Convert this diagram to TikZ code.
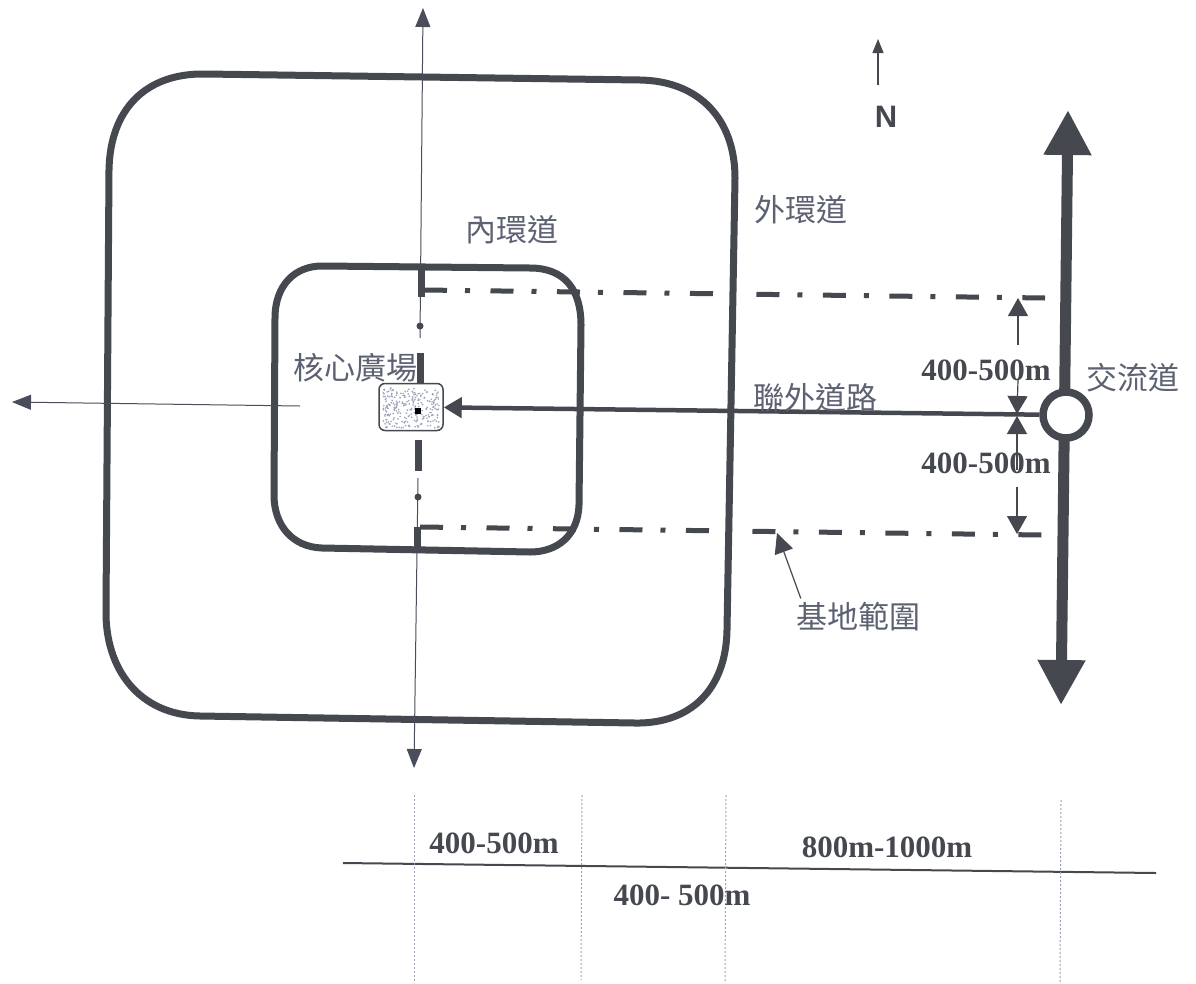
\documentclass[tikz,border=0pt]{standalone}
\usepackage{fontspec}
\setmainfont{Liberation Serif}
\newfontfamily\cjk{Noto Sans CJK TC}
\newfontfamily\sansb{Liberation Sans}
\usetikzlibrary{arrows.meta}
\definecolor{ink}{HTML}{45484F}
\definecolor{txt}{HTML}{5C6272}
\definecolor{thin}{HTML}{4A4E5A}
\definecolor{dotl}{HTML}{9AA3B8}
\tikzset{
  ring/.style={draw=ink,line width=7pt,line join=round},
  cjklabel/.style={text=txt,inner sep=0pt,font=\cjk\fontsize{31}{31}\selectfont},
  dimlabel/.style={text=ink,inner sep=0pt,font=\bfseries\fontsize{31}{31}\selectfont},
  axisline/.style={draw=thin,line width=1pt,-{Triangle[length=19pt,width=15pt]}},
  boundary/.style={draw=ink,line width=5pt,dash pattern=on 23pt off 18pt on 5pt off 20.5pt},
  thickbar/.style={draw=ink,line width=7pt},
  dimarrow/.style={draw=ink,line width=1.2pt,-{Triangle[length=18pt,width=20pt]}},
  gridline/.style={draw=dotl,line width=1pt,dash pattern=on 2pt off 2pt},
  coord/.style={inner sep=0pt,minimum size=0pt}
}
\begin{document}
\begin{tikzpicture}[x=1pt,y=-1pt]
\useasboundingbox[fill=white] (0,0) rectangle (1196,983);
% coordinates
\coordinate (axT) at (423,8);
\coordinate (axTe) at (420,338);
\coordinate (axB) at (414,768);
\coordinate (axBs) at (418,478);
\coordinate (axLs) at (300,406);
\coordinate (axLe) at (12,402);
\coordinate (bt1) at (424,290);
\coordinate (bt2) at (1045,298);
\coordinate (bb1) at (420,527);
\coordinate (bb2) at (1042,535);
\coordinate (hT) at (1068,110);
\coordinate (hB) at (1061,705);
\coordinate (sclL) at (343,863);
\coordinate (sclR) at (1156,873);
\coordinate (nS) at (878,85);
\coordinate (nE) at (878,39);
% rings
\draw[ring] (205,74) -- (640,80) .. controls (700,81) and (735,120) .. (735,178)
  -- (727,630) .. controls (726,690) and (690,724) .. (635,723)
  -- (200,716) .. controls (140,715) and (105,670) .. (106,610)
  -- (109,170) .. controls (110,110) and (145,73) .. (205,74) -- cycle;
\draw[ring] (322,266) -- (530,268) .. controls (565,268) and (581,290) .. (581,325)
  -- (579,505) .. controls (578,535) and (558,552) .. (530,552)
  -- (322,548) .. controls (292,547) and (274,525) .. (274,495)
  -- (275,318) .. controls (275,285) and (295,266) .. (322,266) -- cycle;
% axes
\draw[axisline] (axTe) -- (axT);
\draw[axisline] (axBs) -- (axB);
\draw[axisline] (axLs) -- (axLe);
% site boundary
\draw[boundary] (bt1) -- (bt2);
\draw[boundary] (bb1) -- (bb2);
\draw[thickbar] (421,266) -- (421,297);
\draw[thickbar] (420,353) -- (420,385);
\draw[thickbar] (418,440) -- (418,471);
\draw[thickbar] (417,527) -- (417,549);
\fill[ink] (420,326) circle (3.5);
\fill[ink] (418,497) circle (3.5);
% highway
\draw[draw=ink,line width=11pt,{Triangle[length=45pt,width=45pt]}-{Triangle[length=45pt,width=45pt]}] (hT) -- (hB);
% plaza
\node[coord,draw=ink,fill=white,line width=1.5pt,rounded corners=6pt,minimum width=64pt,minimum height=47pt] (plaza) at (411,407) {};
\pgfmathsetseed{42}
\foreach \i in {1,...,260}{
  \pgfmathsetmacro{\px}{383+rnd*56}
  \pgfmathsetmacro{\py}{388+rnd*40}
  \fill[dotl] (\px,\py) circle (0.9);
}
\fill[black] (415,408) rectangle (421,414);
% interchange
\node[coord,circle,draw=ink,fill=white,line width=7.5pt,minimum size=46pt] (ic) at (1066,415) {};
% access road
\draw[draw=ink,line width=4.5pt,-{Triangle[length=18pt,width=20pt]}] (ic) -- (plaza);
% dimensions
\coordinate (d1) at (1018,345);
\coordinate (d2) at (1018,380);
\coordinate (d3) at (1017,487);
\coordinate (d0) at (1017,414);
\draw[dimarrow] (d1) -- (1018,298);
\draw[dimarrow] (d2) -- (d0);
\draw[dimarrow] (1017,470) -- (1017,416);
\draw[dimarrow] (d3) -- (1017,534);
% pointer
\node[cjklabel] (site) at (858,617) {基地範圍};
\draw[draw=ink,line width=1.2pt,-{Triangle[length=20pt,width=19pt]}] (site.north west) ++(5,-4) -- (777,533);
% labels
\node[cjklabel] (inner) at (512,230) {內環道};
\node[cjklabel] (outer) at (801,210) {外環道};
\node[cjklabel] (core) at (355,368) {核心廣場};
\node[cjklabel] (link) at (815,398) {聯外道路};
\node[cjklabel] (ich) at (1133,378) {交流道};
\node[dimlabel] (dimA) at (986,370) {400-500m};
\node[dimlabel] (dimB) at (986,463) {400-500m};
% north
\draw[draw=ink,line width=1.2pt,-{Triangle[length=14pt,width=11pt]}] (nS) -- (nE);
\node[inner sep=0pt,text=ink,font=\sansb\bfseries\fontsize{31}{31}\selectfont] (north) at (886,117) {N};
% scale
\draw[draw=ink,line width=2pt] (sclL) -- (sclR);
\draw[gridline] (414,795) -- (414,983);
\draw[gridline] (582,795) -- (581,980);
\draw[gridline] (726,795) -- (725,983);
\draw[gridline] (1061,800) -- (1060,983);
\node[dimlabel] (s1) at (494,843) {400-500m};
\node[dimlabel] (s2) at (887,847) {800m-1000m};
\node[dimlabel] (s3) at (682,895) {400- 500m};
\end{tikzpicture}
\end{document}
